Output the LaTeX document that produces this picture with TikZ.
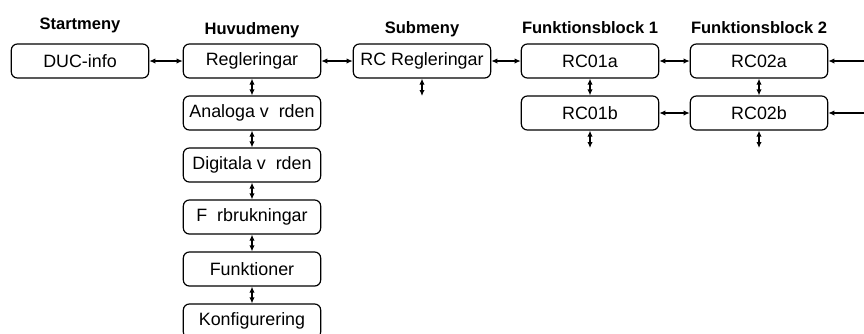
\documentclass[tikz,border=0pt]{standalone}
\usepackage{fontspec}
\setmainfont{Liberation Sans}
\usetikzlibrary{arrows.meta}

\begin{document}
\begin{tikzpicture}[x=0.75pt,y=-0.75pt,
    menybox/.style={draw, rounded corners=4.5pt, line width=0.9pt, minimum width=103pt,
        minimum height=25.5pt, inner sep=0pt, font=\fontsize{13.4}{15}\selectfont},
    rubrik/.style={font=\fontsize{12.4}{14}\selectfont\bfseries, anchor=north},
    pil/.style={{Latex[length=4.5pt,width=4pt]}-{Latex[length=4.5pt,width=4pt]}, line width=0.9pt},
    enkelpil/.style={-{Latex[length=4.5pt,width=4pt]}, line width=0.9pt}]
            \useasboundingbox (0,0) rectangle (864,333);
            \node[rubrik] (hstart) at (80,13) {Startmeny};
            \node[rubrik] (hhuvud) at (252,18) {Huvudmeny};
            \node[rubrik] (hsub) at (422,17) {Submeny};
            \node[rubrik] (hfb1) at (590,17) {Funktionsblock 1};
            \node[rubrik] (hfb2) at (759,17) {Funktionsblock 2};
            \node[menybox] (duc) at (80,61) {DUC-info};
            \node[menybox] (regl) at (252,61) {Regleringar};
            \node[menybox] (analog) at (252,113) {Analoga v\phantom{a}rden};
            \node[menybox] (digital) at (252,165) {Digitala v\phantom{a}rden};
            \node[menybox] (forbr) at (252,217) {F\phantom{o}rbrukningar};
            \node[menybox] (funk) at (252,269) {Funktioner};
            \node[menybox] (konf) at (252,321) {Konfigurering};
            \node[menybox] (rcreg) at (422,61) {RC Regleringar};
            \node[menybox] (rca) at (590,61) {RC01a};
            \node[menybox] (rcb) at (590,113) {RC01b};
            \node[menybox] (rcca) at (759,61) {RC02a};
            \node[menybox] (rccb) at (759,113) {RC02b};
            \coordinate (rcregend) at (422,96);
            \coordinate (rcbend) at (590,148);
            \coordinate (rccbend) at (759,148);
            \coordinate (hoger1) at (866,61);
            \coordinate (hoger2) at (866,113);
            \draw[pil] (duc) -- (regl);
            \draw[pil] (regl) -- (rcreg);
            \draw[pil] (rcreg) -- (rca);
            \draw[pil] (rca) -- (rcca);
            \draw[pil] (rcb) -- (rccb);
            \draw[enkelpil] (hoger1) -- (rcca);
            \draw[enkelpil] (hoger2) -- (rccb);
            \draw[pil] (regl) -- (analog);
            \draw[pil] (analog) -- (digital);
            \draw[pil] (digital) -- (forbr);
            \draw[pil] (forbr) -- (funk);
            \draw[pil] (funk) -- (konf);
            \draw[pil] (rca) -- (rcb);
            \draw[pil] (rcca) -- (rccb);
            \draw[pil] (rcreg) -- (rcregend);
            \draw[pil] (rcb) -- (rcbend);
            \draw[pil] (rccb) -- (rccbend);
        \end{tikzpicture}
\end{document}
